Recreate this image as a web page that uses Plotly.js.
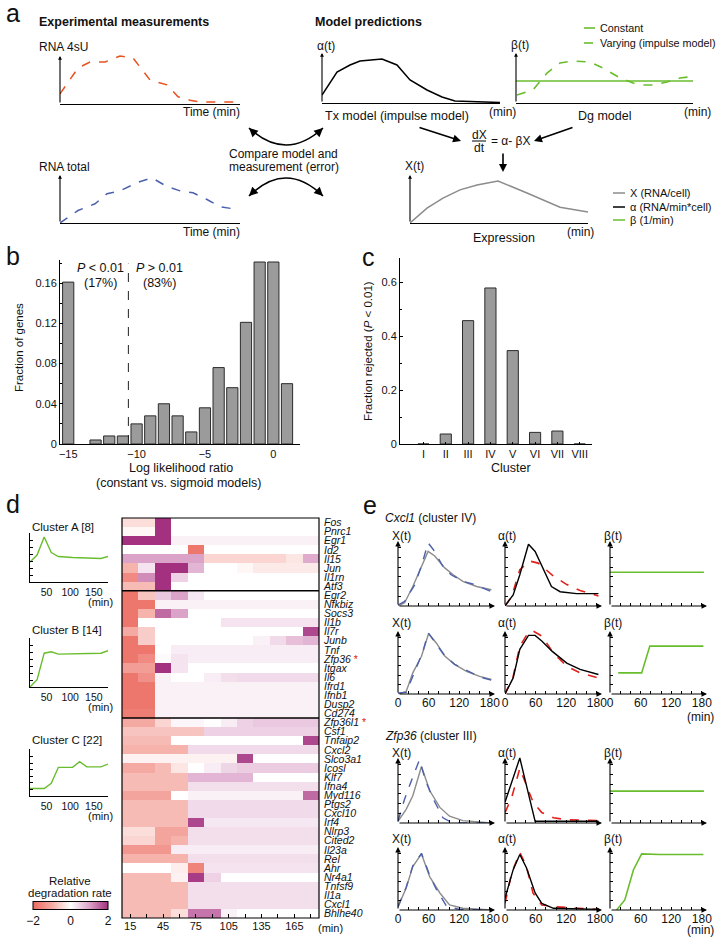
<!DOCTYPE html>
<html>
<head>
<meta charset="utf-8">
<script src="https://cdn.plot.ly/plotly-3.0.1.min.js"></script>
<style>html,body{margin:0;padding:0;background:#fff;} #fig{width:718px;height:943px;}</style>
</head>
<body>
<div id="fig"></div>
<script>
const FONT = 'Liberation Sans, Arial, sans-serif';
const W = 718, H = 943;

const GREEN = '#69bd2d';
const ORANGE = '#e9511f';
const BLUE = '#4c60ae';
const RED = '#e3201c';
const GREY = '#8c8c8c';

// (a) schematic curves, time in minutes, value relative to axis height
const time4sU = [0, 18, 30, 45, 60, 73, 90, 107, 118, 130, 140, 178];
const rna4sU = [0.21, 0.75, 0.875, 0.875, 1.0, 0.96, 0.5, 0.4, 0.15, 0.08, 0.04, 0.04];
const timeTotal = [0, 18, 35, 47, 60, 77, 92, 107, 120, 133, 147, 160, 178];
const rnaTotal = [0, 0.26, 0.40, 0.61, 0.67, 0.84, 0.94, 0.76, 0.67, 0.63, 0.49, 0.34, 0.28];
const timeAlpha = [0, 15, 28, 38, 60, 75, 88, 105, 120, 133, 178];
const alphaScheme = [0.16, 0.62, 0.76, 0.84, 0.88, 0.76, 0.46, 0.26, 0.12, 0.04, 0.01];
const timeBeta = [1, 17, 31, 44, 57, 74, 87, 104, 117, 127, 137, 151, 164, 177];
const betaVarying = [0.16, 0.26, 0.6, 0.8, 0.84, 0.82, 0.7, 0.5, 0.4, 0.36, 0.36, 0.42, 0.5, 0.53];
const timeBetaConst = [0, 177];
const betaConstant = [0.44, 0.44];
const timeExpr = [0, 17, 33, 50, 67, 88, 117, 133, 150, 178];
const exprScheme = [0, 0.31, 0.52, 0.69, 0.79, 0.875, 0.625, 0.48, 0.33, 0.23];

// (b) histogram of log likelihood ratios
const llrBins = [-15, -13, -12, -11, -10, -9, -8, -7, -6, -5, -4, -3, -2, -1, 0, 1];
const llrFraction = [0.161, 0.004, 0.008, 0.008, 0.020, 0.028, 0.040, 0.028, 0.012, 0.036, 0.076, 0.056, 0.121, 0.181, 0.181, 0.060];
const llrCutoff = -10.6;

// (c) fraction rejected per cluster
const clusters = ['I', 'II', 'III', 'IV', 'V', 'VI', 'VII', 'VIII'];
const fractionRejected = [0, 0.037, 0.457, 0.578, 0.346, 0.043, 0.048, 0];

// (d) cluster mean profiles
const clusterTimesA = [15, 30, 45, 60, 75, 105, 165, 180];
const clusterA = [0.41, 0.55, 0.92, 0.60, 0.52, 0.50, 0.48, 0.52];
const clusterTimesB = [15, 30, 45, 60, 75, 120, 165, 180];
const clusterB = [0, 0.15, 0.69, 0.72, 0.67, 0.68, 0.69, 0.74];
const clusterTimesC = [15, 45, 60, 75, 105, 120, 135, 165, 180];
const clusterC = [0.16, 0.16, 0.27, 0.61, 0.61, 0.73, 0.62, 0.62, 0.68];

// (d) heatmap of relative degradation rate
const heatTimes = [15, 30, 45, 60, 75, 90, 105, 120, 135, 150, 165, 180];
const genes = ['Fos', 'Pnrc1', 'Egr1', 'Id2', 'Il15', 'Jun', 'Il1rn', 'Atf3',
    'Egr2', 'Nfkbiz', 'Socs3', 'Il1b', 'Il7r', 'Junb', 'Tnf', 'Zfp36', 'Itgax', 'Il6', 'Ifrd1', 'Ifnb1', 'Dusp2', 'Cd274',
    'Zfp36l1', 'Csf1', 'Tnfaip2', 'Cxcl2', 'Slco3a1', 'Icosl', 'Klf7', 'Ifna4', 'Myd116', 'Ptgs2', 'Cxcl10', 'Irf4',
    'Nlrp3', 'Cited2', 'Il23a', 'Rel', 'Ahr', 'Nr4a1', 'Tnfsf9', 'Il1a', 'Cxcl1', 'Bhlhe40'];
const starredGenes = ['Zfp36', 'Zfp36l1'];
const rates = [
    [-0.4, -0.4, 2, 0, 0, 0, 0, 0, 0, 0, 0, 0],
    [-0.1, -0.1, 2, 0, 0, 0, 0, 0, 0, 0, 0, 0],
    [2, 2, 2, 0.15, 0.15, 0.15, 0.15, 0.15, 0.15, 0.15, 0.15, 0.15],
    [0, 0, 0, 0, -1.8, 0, 0, 0, 0, 0, 0, 0],
    [1, 1, 1, 1, 1, -0.5, -0.5, -0.5, -0.5, -0.5, -0.3, 0.9],
    [-0.9, 0.3, 2, 2, 0.8, 0, 0, -0.1, -0.25, -0.25, -0.25, -0.25],
    [-1.5, 1.2, 2, 0.5, 0, 0, 0, 0, 0, 0, 0, 0],
    [-0.8, -0.8, 2, 0, 0, 0, 0, 0, 0, 0, 0, 0],
    [-1.8, -0.7, 0.6, 1.0, 0.25, 0, 0, 0, 0, 0, 0, 0],
    [-1.8, -1.8, 0.15, 0.15, 0.15, 0.15, 0.15, 0.15, 0.15, 0.15, 0.15, 0.15],
    [-1.8, -0.9, 1.5, 1.0, 0, 0, 0, 0, 0, 0, 0, 0],
    [-1.8, 0, 0, 0, 0, 0, 0.3, 0.3, 0.3, 0.3, 0.3, 0.3],
    [-1.0, -0.6, 0, 0, 0, 0, 0, 0, 0, 0, 0, 1.8],
    [-1.8, -0.6, 0, 0, 0, 0, 0, 0, 0.15, 0.4, 0.7, 0.8],
    [-1.8, -1.8, 0, 0.2, 0.2, 0.2, 0.2, 0.2, 0.2, 0.2, 0.2, 0.2],
    [-1.8, -1.5, 0.05, 0.3, 0.2, 0.2, 0.2, 0.2, 0.2, 0.2, 0.2, 0.2],
    [-1.2, -1.2, 2, 0.3, 0, 0, 0, 0, 0, 0, 0, 0],
    [-1.8, -1.4, 0.15, 0, 0, 0.2, 0.35, 0.4, 0.4, 0.4, 0.4, 0.4],
    [-1.8, -1.8, 0.15, 0.15, 0.15, 0.15, 0.15, 0.15, 0.15, 0.15, 0.15, 0.15],
    [-1.8, -1.8, 0.15, 0.15, 0.15, 0.15, 0.15, 0.15, 0.15, 0.15, 0.15, 0.15],
    [-1.8, -1.8, 0.15, 0.15, 0.15, 0.15, 0.15, 0.15, 0.15, 0.15, 0.15, 0.15],
    [-1.7, -1.7, 0.15, 0.15, 0.15, 0.15, 0.15, 0.15, 0.15, 0.15, 0.15, 0.15],
    [-1.0, -1.0, -0.5, 0.1, 0.1, 0, 0.2, 0.5, 0.6, 0.6, 0.6, 0.6],
    [-0.7, -0.7, -0.7, -0.7, -0.7, 0.5, 0.5, 0.5, 0.5, 0.5, 0.5, 0.5],
    [-0.8, -0.8, -0.8, 0, 0, 0, 0, 0, 0, 0, 0, 1.8],
    [-0.9, -0.9, -0.9, -0.9, 0.4, 0.4, 0.4, 0.4, 0.4, 0.4, 0.4, 0.4],
    [-0.15, -0.15, -0.15, -0.15, -0.15, -0.15, -0.15, 1.8, 0, 0, 0, 0],
    [-1.0, -1.0, -0.8, -0.3, 0, 0.2, 0.45, 0.55, 0.55, 0.55, 0.55, 0.55],
    [-0.8, -0.8, -0.8, -0.8, 0.8, 0.8, 0.8, 0.8, 0, 0, 0, 0],
    [-0.8, -0.8, -0.8, -0.8, 0.35, 0.35, 0.35, 0.35, 0.35, 0.35, 0.35, 0.35],
    [-1.1, -1.1, -1.1, 0, 0.15, 0.15, 0.15, 0.15, 0.15, 0.15, 0.15, 1.5],
    [-0.8, -0.8, -0.8, -0.8, 0.4, 0.4, 0.4, 0.4, 0.4, 0.4, 0.4, 0.4],
    [-0.8, -0.8, -0.8, -0.8, 0.4, 0.4, 0.4, 0.4, 0.4, 0.4, 0.4, 0.4],
    [-0.8, -0.8, -0.8, -0.8, 1.8, 0.25, 0.25, 0.25, 0.25, 0.25, 0.25, 0.25],
    [-0.4, -0.4, -1.1, -1.1, 0.35, 0.35, 0.35, 0.35, 0.35, 0.35, 0.35, 0.35],
    [-0.5, -0.5, -1.1, -0.9, 0.35, 0.35, 0.35, 0.35, 0.35, 0.35, 0.35, 0.35],
    [-1.3, -1.3, -1.3, 0.2, 0.2, 0.2, 0.2, 0.2, 0.2, 0.2, 0.2, 0.2],
    [-0.9, -0.9, -0.9, -0.9, 0.35, 0.35, 0.35, 0.35, 0.35, 0.35, 0.35, 0.35],
    [0, 0, 0, -0.2, -1.6, 0.3, 0.3, 0.3, 0.3, 0.3, 0.3, 0.3],
    [-0.8, -0.8, -0.8, -0.15, 1.9, 0.5, 0, 0, 0, 0, 0, 0],
    [-0.8, -0.8, -0.8, -0.8, 0.35, 0.35, 0.35, 0.35, 0.35, 0.35, 0.35, 0.35],
    [-0.8, -0.8, -0.8, -0.8, 0.35, 0.35, 0.35, 0.35, 0.35, 0.35, 0.35, 0.35],
    [-0.8, -0.8, -0.8, -0.8, 0.35, 0.35, 0.35, 0.35, 0.35, 0.35, 0.35, 0.35],
    [-0.8, -0.8, -0.8, -0.4, 1.4, 1.4, 0.15, 0, 0, 0, 0, 0]
];

// (e) model fits, value relative to axis height
// Cxcl1, constant degradation
const cxConstXModelT = [0, 13, 29, 46, 59, 72, 91, 108, 127, 154, 183];
const cxConstXModel = [0, 0.05, 0.30, 0.61, 0.84, 0.77, 0.59, 0.48, 0.38, 0.30, 0.25];
const cxConstXDataT = [0, 13, 33, 46, 59, 69, 88, 104, 127, 150, 183];
const cxConstXData = [0.016, 0.07, 0.33, 0.62, 0.97, 0.87, 0.61, 0.48, 0.38, 0.33, 0.22];
const cxConstAlphaT = [0, 16, 29, 46, 59, 72, 91, 108, 140, 183];
const cxConstAlpha = [0, 0.17, 0.48, 0.95, 0.84, 0.61, 0.30, 0.22, 0.19, 0.19];
const cxConstAlphaDataT = [0, 13, 29, 49, 65, 95, 121, 147, 183];
const cxConstAlphaData = [0, 0.145, 0.56, 0.69, 0.66, 0.46, 0.33, 0.24, 0.155];
const cxConstBetaT = [0, 184];
const cxConstBeta = [0.52, 0.52];
// Cxcl1, varying degradation
const cxVarXModelT = [0, 16, 29, 46, 60, 75, 92, 111, 134, 160, 183];
const cxVarXModel = [0, 0.04, 0.335, 0.60, 0.96, 0.81, 0.60, 0.47, 0.36, 0.28, 0.23];
const cxVarXDataT = [0, 16, 33, 49, 59, 75, 92, 111, 134, 160, 183];
const cxVarXData = [0.016, 0.026, 0.36, 0.68, 0.97, 0.80, 0.60, 0.47, 0.37, 0.27, 0.22];
const cxVarAlphaT = [0, 16, 29, 46, 59, 72, 92, 121, 147, 183];
const cxVarAlpha = [0, 0.255, 0.71, 0.93, 0.93, 0.84, 0.68, 0.49, 0.39, 0.31];
const cxVarAlphaDataT = [0, 16, 29, 46, 55, 72, 95, 121, 147, 183];
const cxVarAlphaData = [0, 0.28, 0.76, 0.98, 1.0, 0.92, 0.65, 0.44, 0.335, 0.255];
const cxVarBetaT = [16, 62, 78, 183];
const cxVarBeta = [0.335, 0.335, 0.76, 0.76];
// Zfp36, constant degradation
const zfConstXModelT = [0, 16, 29, 46, 62, 82, 101, 127, 183];
const zfConstXModel = [0.026, 0.21, 0.42, 0.87, 0.50, 0.24, 0.105, 0.037, 0];
const zfConstXDataT = [0, 13, 29, 42, 55, 69, 88, 101, 121, 183];
const zfConstXData = [0.03, 0.37, 0.71, 0.97, 0.63, 0.37, 0.08, 0.026, 0, 0];
const zfConstAlphaT = [0, 29, 59, 183];
const zfConstAlpha = [0.32, 1.0, 0.026, 0.026];
const zfConstAlphaDataT = [0, 13, 29, 42, 55, 72, 95, 121, 183];
const zfConstAlphaData = [0.16, 0.39, 0.84, 0.58, 0.32, 0.16, 0.08, 0.05, 0.037];
const zfConstBetaT = [0, 184];
const zfConstBeta = [0.49, 0.49];
// Zfp36, varying degradation
const zfVarXModelT = [0, 16, 29, 42, 46, 62, 82, 101, 127, 183];
const zfVarXModel = [0.05, 0.35, 0.69, 0.85, 0.89, 0.53, 0.27, 0.08, 0.027, 0];
const zfVarXDataT = [0, 16, 29, 42, 46, 62, 75, 95, 120, 183];
const zfVarXData = [0.05, 0.36, 0.70, 0.85, 0.90, 0.55, 0.33, 0.06, 0.01, 0];
const zfVarAlphaT = [0, 16, 29, 42, 59, 72, 95, 183];
const zfVarAlpha = [0.186, 0.64, 0.88, 0.67, 0.27, 0.106, 0.027, 0.01];
const zfVarAlphaDataT = [0, 13, 29, 42, 55, 72, 95, 121, 183];
const zfVarAlphaData = [0.106, 0.585, 0.915, 0.69, 0.266, 0.08, 0.053, 0.043, 0.01];
const zfVarBetaT = [13, 29, 46, 62, 98, 183];
const zfVarBeta = [0, 0.16, 0.64, 0.89, 0.88, 0.88];

const eTicks = [0, 20, 40, 60, 80, 100, 120, 140, 160, 180];

// ---- helpers: pixel position -> paper fraction ----
const fx = p => p / W;
const fy = p => 1 - p / H;

const layout = {
    width: W,
    height: H,
    margin: {l: 0, r: 0, t: 0, b: 0, autoexpand: false},
    showlegend: false,
    paper_bgcolor: '#fff',
    plot_bgcolor: 'rgba(0,0,0,0)',
    font: {family: FONT, size: 12, color: '#111'},
    annotations: [],
    shapes: [],
};
const traces = [];
let axisCount = 0;

function addAxes(x0, x1, yTop, yBase, xopt, yopt) {
    axisCount++;
    const id = axisCount === 1 ? '' : String(axisCount);
    const base = {
        showgrid: false, zeroline: false, showticklabels: false, ticks: '', showline: false,
        fixedrange: true, linecolor: '#000', linewidth: 1, tickcolor: '#000',
        tickfont: {family: FONT, size: 11, color: '#111'},
    };
    layout['xaxis' + id] = Object.assign({}, base, {domain: [fx(x0), fx(x1)], anchor: 'y' + id}, xopt);
    layout['yaxis' + id] = Object.assign({}, base, {domain: [fy(yBase), fy(yTop)], anchor: 'x' + id}, yopt);
    return {x: 'x' + id, y: 'y' + id};
}

function text(x, y, s, opt) {
    const o = opt || {};
    layout.annotations.push({
        xref: 'paper', yref: 'paper', x: fx(x), y: fy(y), text: s, showarrow: false,
        xanchor: o.xanchor || 'left', yanchor: 'middle', textangle: o.angle || 0,
        font: {family: FONT, size: o.size || 12, color: o.color || '#111'},
    });
}

function pixArrow(x0, y0, x1, y1, opt) {
    layout.annotations.push(Object.assign({
        xref: 'paper', yref: 'paper', x: fx(x1), y: fy(y1), ax: x0 - x1, ay: y0 - y1,
        text: '', showarrow: true, arrowhead: 2, arrowsize: 1, arrowwidth: 1.6, arrowcolor: '#000',
        standoff: 0, startstandoff: 0,
    }, opt || {}));
}

function axisArrow(ax, x0, y0, x1, y1, size) {
    layout.annotations.push({
        xref: ax.x, yref: ax.y, axref: ax.x, ayref: ax.y, x: x1, y: y1, ax: x0, ay: y0,
        text: '', showarrow: true, arrowhead: 2, arrowsize: size || 1, arrowwidth: 1.1, arrowcolor: '#000',
        standoff: 0, startstandoff: 0,
    });
}

function line(ax, x, y, color, dash, width) {
    traces.push({
        type: 'scatter', mode: 'lines', x: x, y: y, xaxis: ax.x, yaxis: ax.y,
        line: {color: color, dash: dash || 'solid', width: width || 1.5}, hoverinfo: 'skip',
    });
}

function seg(x0, y0, x1, y1, color, dash, width) {
    layout.shapes.push({
        type: 'line', xref: 'paper', yref: 'paper', x0: fx(x0), y0: fy(y0), x1: fx(x1), y1: fy(y1),
        line: {color: color, dash: dash || 'solid', width: width || 1.5},
    });
}

// ---- panel a ----
function sketchAxes(x0, x1, yTop, yBase, tmax) {
    const h = yBase - yTop;
    const ax = addAxes(x0, x1, yTop - 0.05 * h, yBase, {range: [0, tmax], showline: true}, {range: [0, 1.05]});
    axisArrow(ax, 0, 0, 0, 1, 0.7);
    return ax;
}

function curvedArrow(x0, y0, cx, cy, x1, y1) {
    layout.shapes.push({
        type: 'path', xref: 'paper', yref: 'paper',
        path: `M ${fx(x0)} ${fy(y0)} Q ${fx(cx)} ${fy(cy)} ${fx(x1)} ${fy(y1)}`,
        line: {color: '#000', width: 1.6},
    });
    pixArrow(x0 + 0.2 * (cx - x0), y0 + 0.2 * (cy - y0), x0, y0, {arrowsize: 1.1});
    pixArrow(x1 + 0.2 * (cx - x1), y1 + 0.2 * (cy - y1), x1, y1, {arrowsize: 1.1});
}

function drawPanelA() {
    text(4, 13, 'a', {size: 25});
    text(37, 22, '<b>Experimental measurements</b>', {size: 12.5});
    text(313, 22, '<b>Model predictions</b>', {size: 12.5});

    const ax4sU = sketchAxes(60, 240, 56, 104, 180);
    line(ax4sU, time4sU, rna4sU, ORANGE, 'dash', 1.5);
    text(37, 47, 'RNA 4sU');
    text(242, 112, 'Time (min)', {xanchor: 'right'});

    const axTotal = sketchAxes(60, 240, 175, 223, 180);
    line(axTotal, timeTotal, rnaTotal, BLUE, 'dash', 1.5);
    text(37, 167, 'RNA total');
    text(242, 232, 'Time (min)', {xanchor: 'right'});

    const axAlpha = sketchAxes(322, 500, 53, 103, 178);
    line(axAlpha, timeAlpha, alphaScheme, '#000', 'solid', 1.5);
    text(315, 46, 'α(t)');
    text(323, 116, 'Tx model (impulse model)', {size: 12.5});
    text(487, 112, '(min)');

    const axBeta = sketchAxes(516, 693, 53, 103, 177);
    line(axBeta, timeBetaConst, betaConstant, GREEN, 'solid', 1.6);
    line(axBeta, timeBeta, betaVarying, GREEN, 'dash', 1.6);
    text(509, 45, 'β(t)');
    text(605, 116, 'Dg model', {xanchor: 'center', size: 12.5});
    text(682, 112, '(min)');

    seg(584, 28, 595, 28, GREEN, 'solid', 1.6);
    seg(584, 43, 595, 43, GREEN, 'dash', 1.6);
    text(598, 28, 'Constant', {size: 10.8});
    text(598, 43, 'Varying (impulse model)', {size: 10.8});

    const axExpr = sketchAxes(410, 588, 175, 223, 178);
    line(axExpr, timeExpr, exprScheme, GREY, 'solid', 1.5);
    text(403, 166, 'X(t)');
    text(504, 238, 'Expression', {xanchor: 'center', size: 12.5});
    text(565, 232, '(min)');

    seg(613, 193, 625, 193, GREY);
    seg(613, 207, 625, 207, '#000');
    seg(613, 220, 625, 220, GREEN);
    text(628, 193, 'X (RNA/cell)', {size: 11});
    text(628, 207, 'α (RNA/min*cell)', {size: 11});
    text(628, 220, 'β (1/min)', {size: 11});

    // model equation with arrows
    text(479, 135, 'dX', {xanchor: 'center'});
    text(479, 148, 'dt', {xanchor: 'center'});
    seg(472, 141, 486, 141, '#000', 'solid', 1);
    text(489, 141, '= α- βX');
    pixArrow(418, 127, 461, 141);
    pixArrow(574, 127, 534, 141);
    pixArrow(503, 152, 503, 172);

    text(283, 154, 'Compare model and', {xanchor: 'center'});
    text(284, 167, 'measurement (error)', {xanchor: 'center'});
    curvedArrow(249, 128, 286, 162, 323, 128);
    curvedArrow(249, 196, 286, 160, 323, 196);
}

// ---- panel b ----
function drawPanelB() {
    text(4, 256, 'b', {size: 25});
    const ax = addAxes(60, 300, 260, 444,
        {range: [-15.6, 1.95], showline: true, showticklabels: true,
            tickvals: [-15, -10, -5, 0], ticktext: ['\u221215', '\u221210', '\u22125', '0']},
        {range: [0, 0.183], showline: true, showticklabels: true, ticks: 'inside', ticklen: 3,
            tickvals: [0, 0.04, 0.08, 0.12, 0.16], ticktext: ['0', '0.04', '0.08', '0.12', '0.16'],
            minor: {ticks: 'inside', ticklen: 2, dtick: 0.02, tickcolor: '#000'}});
    traces.push({
        type: 'bar', x: llrBins, y: llrFraction, width: 0.82, xaxis: ax.x, yaxis: ax.y,
        marker: {color: '#9b9b9b', line: {color: '#2b2b2b', width: 1}}, hoverinfo: 'skip',
    });
    layout.shapes.push({
        type: 'line', xref: ax.x, yref: ax.y + ' domain', x0: llrCutoff, x1: llrCutoff, y0: 0, y1: 0.98,
        line: {color: '#222', width: 1, dash: 'dash'},
    });
    text(100, 268, '<i>P</i> < 0.01', {xanchor: 'center', size: 12.5});
    text(100, 283, '(17%)', {xanchor: 'center', size: 12.5});
    text(159, 268, '<i>P</i> > 0.01', {xanchor: 'center', size: 12.5});
    text(159, 283, '(83%)', {xanchor: 'center', size: 12.5});
    text(19, 348, 'Fraction of genes', {xanchor: 'center', angle: -90, size: 11.5});
    text(181, 468, 'Log likelihood ratio', {xanchor: 'center', size: 12.5});
    text(178, 483, '(constant vs. sigmoid models)', {xanchor: 'center', size: 12.5});
}

// ---- panel c ----
function drawPanelC() {
    text(360, 257, 'c', {size: 25});
    const ax = addAxes(400, 592, 258, 444,
        {type: 'category', range: [-1.05, 7.55], showline: true, showticklabels: true, ticks: 'inside', ticklen: 2},
        {range: [0, 0.689], showline: true, showticklabels: true, ticks: 'inside', ticklen: 3,
            tickvals: [0, 0.2, 0.4, 0.6], ticktext: ['0', '0.2', '0.4', '0.6'],
            minor: {ticks: 'inside', ticklen: 2, dtick: 0.1, tickcolor: '#000'}});
    traces.push({
        type: 'bar', x: clusters, y: fractionRejected, width: 0.5, xaxis: ax.x, yaxis: ax.y,
        marker: {color: '#9b9b9b', line: {color: '#2b2b2b', width: 1}}, hoverinfo: 'skip',
    });
    text(368, 351, 'Fraction rejected (<i>P</i> < 0.01)', {xanchor: 'center', angle: -90, size: 11.5});
    text(511, 468, 'Cluster', {xanchor: 'center', size: 12.5});
}

// ---- panel d ----
function clusterPlot(yTop, yBase, times, values, title, titleY) {
    const ax = addAxes(30, 108, yTop, yBase,
        {range: [15, 180], showline: true, showticklabels: true, tickvals: [50, 100, 150],
            tickfont: {family: FONT, size: 10.5, color: '#111'}},
        {range: [0, 1], showline: true, ticks: 'inside', ticklen: 2.5,
            tickvals: [0.14, 0.28, 0.42, 0.56, 0.70, 0.84, 0.98]});
    line(ax, times, values, GREEN, 'solid', 1.4);
    text(30, titleY, title, {size: 11.5});
    text(100, yBase + 20, '(min)', {xanchor: 'center', size: 11});
}

function drawPanelD() {
    text(4, 504, 'd', {size: 25});
    clusterPlot(533, 582, clusterTimesA, clusterA, 'Cluster A [8]', 527);
    clusterPlot(638, 687, clusterTimesB, clusterB, 'Cluster B [14]', 630);
    clusterPlot(749, 796, clusterTimesC, clusterC, 'Cluster C [22]', 740);

    const labels = genes.map(g => starredGenes.includes(g)
        ? '<i>' + g + '</i> <span style="color:#e02020">*</span>' : '<i>' + g + '</i>');
    const ax = addAxes(122, 319, 518, 918,
        {range: [7.5, 187.5], showticklabels: true, ticks: 'inside', ticklen: 4,
            tickvals: heatTimes, ticktext: heatTimes.map(t => (t - 15) % 30 === 0 ? String(t) : '')},
        {type: 'category', range: [genes.length - 0.5, -0.5], side: 'right', showticklabels: true,
            tickvals: genes, ticktext: labels, ticklabelstandoff: 4,
            tickfont: {family: FONT, size: 10.5, color: '#111'}});
    traces.push({
        type: 'heatmap', x: heatTimes, y: genes, z: rates, xaxis: ax.x, yaxis: ax.y,
        zmin: -2, zmax: 2, hoverinfo: 'skip',
        colorscale: [[0, '#ec6a60'], [0.25, '#f4aaa3'], [0.5, '#ffffff'], [0.75, '#dca3c9'], [1, '#a3317f']],
        colorbar: {
            orientation: 'h', x: fx(70.5), xanchor: 'center', y: fy(913), yanchor: 'middle',
            len: 75, lenmode: 'pixels', thickness: 8, thicknessmode: 'pixels',
            outlinewidth: 1, outlinecolor: '#000', xpad: 0, ypad: 0,
            tickvals: [-2, 0, 2], ticktext: ['\u22122', '0', '2'], ticks: '',
            tickfont: {family: FONT, size: 12, color: '#111'},
        },
    });
    layout.shapes.push({
        type: 'rect', xref: ax.x + ' domain', yref: ax.y + ' domain', x0: 0, x1: 1, y0: 0, y1: 1,
        line: {color: '#000', width: 1.2},
    });
    [7.5, 21.5].forEach(b => layout.shapes.push({
        type: 'line', xref: ax.x + ' domain', yref: ax.y, x0: 0, x1: 1, y0: b, y1: b,
        line: {color: '#000', width: 1.5},
    }));
    text(316, 928, '(min)', {size: 11});
    text(70, 881, 'Relative', {xanchor: 'center', size: 11.5});
    text(70, 893, 'degradation rate', {xanchor: 'center', size: 11.5});
}

// ---- panel e ----
const eCols = [[398, 495], [505, 602], [610, 707]];
const eRows = [[541, 606], [631, 694], [758, 823], [847, 910]];
const eLabelY = [536, 623, 753, 839];

function fitAxes(col, row, labelled) {
    const [x0, x1] = eCols[col];
    const [yTop, yBase] = eRows[row];
    const h = yBase - yTop;
    const ax = addAxes(x0, x1, yTop - 0.06 * h, yBase,
        {range: [0, 190], showticklabels: true, ticks: 'inside', ticklen: 3, tickvals: eTicks,
            ticktext: eTicks.map(t => labelled && t % 60 === 0 ? String(t) : ''),
            tickfont: {family: FONT, size: 12, color: '#111'}},
        {range: [0, 1.06], ticks: 'inside', ticklen: 2.5, tickvals: [0.15, 0.3, 0.45, 0.6, 0.75, 0.9]});
    axisArrow(ax, 0, 0, 190, 0, 1);
    axisArrow(ax, 0, 0, 0, 1.0, 1);
    return ax;
}

function fitRow(row, labelled, d) {
    const axX = fitAxes(0, row, labelled);
    line(axX, d.xModelT, d.xModel, GREY, 'solid', 1.4);
    line(axX, d.xDataT, d.xData, BLUE, 'dash', 1.4);
    const axA = fitAxes(1, row, labelled);
    line(axA, d.alphaDataT, d.alphaData, RED, 'dash', 1.6);
    line(axA, d.alphaT, d.alpha, '#000', 'solid', 1.4);
    const axB = fitAxes(2, row, labelled);
    line(axB, d.betaT, d.beta, GREEN, 'solid', 1.6);
    text(390, eLabelY[row], 'X(t)');
    text(496, eLabelY[row], 'α(t)');
    text(602, eLabelY[row], 'β(t)');
}

function drawPanelE() {
    text(361, 505, 'e', {size: 25});
    text(383, 518, '<i>Cxcl1</i> (cluster IV)');
    text(383, 736, '<i>Zfp36</i> (cluster III)');
    fitRow(0, false, {xModelT: cxConstXModelT, xModel: cxConstXModel, xDataT: cxConstXDataT, xData: cxConstXData,
        alphaT: cxConstAlphaT, alpha: cxConstAlpha, alphaDataT: cxConstAlphaDataT, alphaData: cxConstAlphaData,
        betaT: cxConstBetaT, beta: cxConstBeta});
    fitRow(1, true, {xModelT: cxVarXModelT, xModel: cxVarXModel, xDataT: cxVarXDataT, xData: cxVarXData,
        alphaT: cxVarAlphaT, alpha: cxVarAlpha, alphaDataT: cxVarAlphaDataT, alphaData: cxVarAlphaData,
        betaT: cxVarBetaT, beta: cxVarBeta});
    fitRow(2, false, {xModelT: zfConstXModelT, xModel: zfConstXModel, xDataT: zfConstXDataT, xData: zfConstXData,
        alphaT: zfConstAlphaT, alpha: zfConstAlpha, alphaDataT: zfConstAlphaDataT, alphaData: zfConstAlphaData,
        betaT: zfConstBetaT, beta: zfConstBeta});
    fitRow(3, true, {xModelT: zfVarXModelT, xModel: zfVarXModel, xDataT: zfVarXDataT, xData: zfVarXData,
        alphaT: zfVarAlphaT, alpha: zfVarAlpha, alphaDataT: zfVarAlphaDataT, alphaData: zfVarAlphaData,
        betaT: zfVarBetaT, beta: zfVarBeta});
    text(700, 717, '(min)', {xanchor: 'center'});
    text(700, 930, '(min)', {xanchor: 'center'});
}

drawPanelA();
drawPanelB();
drawPanelC();
drawPanelD();
drawPanelE();

Plotly.newPlot('fig', traces, layout, {displayModeBar: false, staticPlot: true});
</script>
</body>
</html>
